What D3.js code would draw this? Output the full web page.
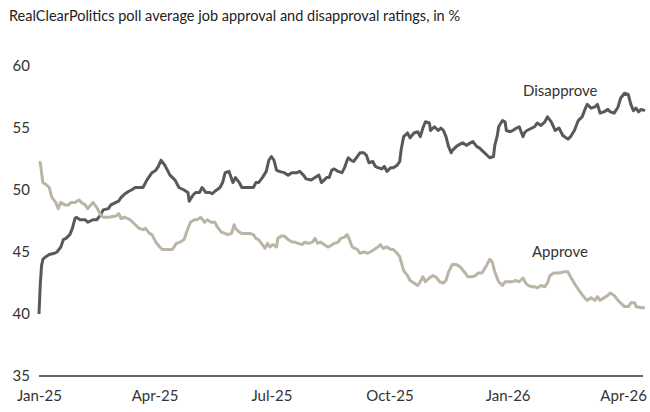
<!DOCTYPE html>
<html>
<head>
<meta charset="utf-8">
<script src="https://cdn.jsdelivr.net/npm/d3@7"></script>
<style>
  html, body { margin: 0; padding: 0; background: #fff; }
  svg { display: block; font-family: Lato, "Open Sans", sans-serif; }
</style>
</head>
<body>
<svg id="chart" width="650" height="412"></svg>
<script>
// RealClearPolitics poll average: job approval / disapproval, in %
const title = "RealClearPolitics poll average job approval and disapproval ratings, in %";

const disapproveDates = [
  "2025-01-20","2025-01-21","2025-01-22","2025-01-23","2025-01-25","2025-01-28","2025-02-01","2025-02-03",
  "2025-02-06","2025-02-08","2025-02-10","2025-02-13","2025-02-15","2025-02-17","2025-02-18","2025-02-21",
  "2025-02-25","2025-02-27","2025-03-03","2025-03-06","2025-03-09","2025-03-11","2025-03-15","2025-03-17",
  "2025-03-21","2025-03-23","2025-03-25","2025-03-28","2025-03-31","2025-04-02","2025-04-05","2025-04-08",
  "2025-04-11","2025-04-14","2025-04-18","2025-04-21","2025-04-23","2025-04-25","2025-04-28","2025-04-30",
  "2025-05-02","2025-05-06","2025-05-09","2025-05-13","2025-05-16","2025-05-17","2025-05-20","2025-05-22",
  "2025-05-25","2025-05-27","2025-05-30","2025-06-02","2025-06-04","2025-06-06","2025-06-10","2025-06-12",
  "2025-06-14","2025-06-17","2025-06-20","2025-06-22","2025-06-25","2025-06-27","2025-06-29","2025-07-03",
  "2025-07-06","2025-07-08","2025-07-10","2025-07-13","2025-07-16","2025-07-18","2025-07-20","2025-07-22",
  "2025-07-24","2025-07-26","2025-07-30","2025-08-02","2025-08-05","2025-08-09","2025-08-11","2025-08-14",
  "2025-08-16","2025-08-20","2025-08-23","2025-08-26","2025-08-28","2025-09-01","2025-09-03","2025-09-05",
  "2025-09-07","2025-09-10","2025-09-13","2025-09-15","2025-09-17","2025-09-18","2025-09-20","2025-09-22",
  "2025-09-25","2025-09-27","2025-09-30","2025-10-02","2025-10-04","2025-10-07","2025-10-09","2025-10-11",
  "2025-10-14","2025-10-16","2025-10-18","2025-10-21","2025-10-23","2025-10-26","2025-10-28","2025-10-29",
  "2025-10-31","2025-11-03","2025-11-05","2025-11-08","2025-11-11","2025-11-13","2025-11-15","2025-11-17",
  "2025-11-20","2025-11-21","2025-11-24","2025-11-27","2025-11-29","2025-12-01","2025-12-03","2025-12-05",
  "2025-12-07","2025-12-08","2025-12-11","2025-12-14","2025-12-16","2025-12-19","2025-12-22","2025-12-24",
  "2025-12-27","2025-12-29","2026-01-01","2026-01-04","2026-01-06","2026-01-09","2026-01-10","2026-01-12",
  "2026-01-13","2026-01-16","2026-01-18","2026-01-19","2026-01-22","2026-01-24","2026-01-27","2026-01-29",
  "2026-02-01","2026-02-02","2026-02-04","2026-02-08","2026-02-10","2026-02-12","2026-02-15","2026-02-18",
  "2026-02-20","2026-02-23","2026-02-26","2026-03-01","2026-03-04","2026-03-08","2026-03-10","2026-03-13",
  "2026-03-16","2026-03-19","2026-03-22","2026-03-23","2026-03-26","2026-03-29","2026-03-31","2026-04-02",
  "2026-04-05","2026-04-08","2026-04-10","2026-04-13","2026-04-16","2026-04-18","2026-04-21","2026-04-24",
  "2026-04-26","2026-04-28","2026-04-30","2026-05-02","2026-05-04","2026-05-07"
];
const disapproveValues = [
  40.0,42.4,43.9,44.4,44.6,44.8,44.9,45.0,
  45.4,46.0,46.1,46.4,46.9,47.7,47.8,47.6,
  47.6,47.4,47.6,47.6,48.0,48.4,48.5,48.8,
  49.0,49.1,49.4,49.7,49.9,50.0,50.2,50.2,
  50.2,50.8,51.4,51.6,51.9,52.4,52.0,51.6,
  51.2,50.8,50.2,50.0,49.8,49.1,49.6,49.8,
  49.8,50.2,49.8,49.8,49.7,49.9,50.2,50.6,
  51.4,51.5,50.6,51.0,50.6,50.2,50.2,50.2,
  50.2,50.6,50.6,51.0,51.5,52.4,52.7,52.4,
  51.6,51.5,51.4,51.2,51.4,51.4,51.5,51.2,
  50.9,50.8,51.0,51.2,50.6,51.0,51.0,51.6,
  51.7,51.5,51.4,51.8,52.4,52.6,52.4,52.3,
  52.7,53.0,53.0,52.8,52.2,52.3,51.9,51.8,
  51.7,51.9,51.5,51.8,51.8,52.0,52.3,53.2,
  54.3,54.6,54.2,54.6,54.7,54.3,55.0,55.5,
  55.4,54.8,55.1,54.8,55.0,54.8,54.3,53.5,
  53.0,53.2,53.5,53.7,53.8,53.6,53.8,53.9,
  53.5,53.4,53.1,52.8,52.6,52.7,53.6,54.4,
  55.1,55.6,55.5,54.8,54.7,54.8,55.0,55.1,
  54.3,54.6,54.8,55.0,55.1,55.4,55.2,55.5,
  55.9,55.5,54.8,55.0,54.4,54.1,54.3,54.8,
  55.6,55.9,56.7,56.9,56.6,56.7,56.9,56.2,
  56.3,56.5,56.3,56.2,56.7,57.4,57.8,57.7,
  56.9,56.4,56.6,56.3,56.5,56.4
];

const approveDates = [
  "2025-01-20","2025-01-21","2025-01-23","2025-01-26","2025-01-28","2025-01-30","2025-02-02","2025-02-04",
  "2025-02-06","2025-02-09","2025-02-12","2025-02-14","2025-02-17","2025-02-20","2025-02-22","2025-02-25",
  "2025-02-27","2025-03-03","2025-03-06","2025-03-09","2025-03-11","2025-03-15","2025-03-21","2025-03-23",
  "2025-03-25","2025-03-28","2025-04-01","2025-04-05","2025-04-08","2025-04-11","2025-04-13","2025-04-16",
  "2025-04-18","2025-04-21","2025-04-24","2025-04-26","2025-04-28","2025-05-01","2025-05-04","2025-05-07",
  "2025-05-10","2025-05-13","2025-05-16","2025-05-18","2025-05-21","2025-05-23","2025-05-26","2025-05-29",
  "2025-05-31","2025-06-03","2025-06-06","2025-06-08","2025-06-11","2025-06-14","2025-06-16","2025-06-19",
  "2025-06-21","2025-06-22","2025-06-25","2025-06-27","2025-06-29","2025-07-03","2025-07-06","2025-07-08",
  "2025-07-10","2025-07-13","2025-07-15","2025-07-17","2025-07-19","2025-07-21","2025-07-24","2025-07-25",
  "2025-07-28","2025-07-30","2025-08-02","2025-08-05","2025-08-07","2025-08-10","2025-08-13","2025-08-15",
  "2025-08-18","2025-08-21","2025-08-23","2025-08-25","2025-08-27","2025-08-30","2025-09-02","2025-09-04",
  "2025-09-07","2025-09-10","2025-09-12","2025-09-15","2025-09-17","2025-09-18","2025-09-21","2025-09-25",
  "2025-09-27","2025-09-30","2025-10-03","2025-10-05","2025-10-08","2025-10-11","2025-10-13","2025-10-15",
  "2025-10-18","2025-10-21","2025-10-23","2025-10-26","2025-10-28","2025-10-31","2025-11-03","2025-11-05",
  "2025-11-08","2025-11-11","2025-11-13","2025-11-15","2025-11-17","2025-11-20","2025-11-23","2025-11-26",
  "2025-11-28","2025-12-01","2025-12-03","2025-12-05","2025-12-08","2025-12-11","2025-12-14","2025-12-18",
  "2025-12-20","2025-12-23","2025-12-26","2025-12-28","2025-12-31","2026-01-03","2026-01-06","2026-01-08",
  "2026-01-10","2026-01-13","2026-01-16","2026-01-18","2026-01-21","2026-01-24","2026-01-26","2026-01-29",
  "2026-02-01","2026-02-03","2026-02-05","2026-02-08","2026-02-10","2026-02-12","2026-02-15","2026-02-18",
  "2026-02-20","2026-02-22","2026-02-25","2026-03-01","2026-03-05","2026-03-08","2026-03-10","2026-03-14",
  "2026-03-18","2026-03-21","2026-03-23","2026-03-26","2026-03-29","2026-03-31","2026-04-02","2026-04-05",
  "2026-04-08","2026-04-10","2026-04-13","2026-04-16","2026-04-18","2026-04-21","2026-04-24","2026-04-26",
  "2026-04-29","2026-04-30","2026-05-04","2026-05-07"
];
const approveValues = [
  52.3,52.2,50.6,50.4,50.2,49.4,49.0,48.5,
  49.0,48.8,48.8,49.0,49.0,49.2,49.0,48.8,
  48.5,49.0,48.6,48.0,47.8,47.8,47.9,48.1,
  47.7,47.8,47.6,47.2,46.9,46.8,46.9,46.5,
  46.4,45.8,45.4,45.2,45.2,45.2,45.2,45.7,
  45.8,46.0,46.9,47.4,47.6,47.6,47.8,47.4,
  47.6,47.4,47.4,47.0,46.6,46.5,46.4,46.5,
  47.2,46.9,46.6,46.5,46.5,46.5,46.4,46.1,
  46.0,45.6,45.3,45.7,45.4,45.6,45.4,46.1,
  46.3,46.3,46.0,45.8,45.8,45.7,45.6,45.8,
  45.7,45.8,46.1,45.7,45.8,45.6,45.4,45.5,
  45.7,45.8,46.1,46.2,46.4,46.2,45.4,45.2,
  44.9,45.0,44.9,45.0,45.2,45.4,45.6,45.3,
  45.4,45.2,45.2,44.9,44.6,43.5,43.1,42.7,
  42.5,42.3,42.6,43.0,42.6,42.9,43.1,42.9,
  42.6,42.5,42.7,43.4,44.0,44.0,43.8,43.3,
  43.0,43.0,43.1,43.3,43.3,43.8,44.4,44.2,
  43.4,42.6,42.3,42.6,42.6,42.6,42.7,42.6,
  42.9,42.5,42.3,42.2,42.2,42.1,42.3,42.2,
  42.5,43.1,43.3,43.3,43.4,43.4,43.0,42.3,
  41.7,41.3,41.1,41.3,41.1,41.4,41.1,41.3,
  41.5,41.7,41.5,41.1,40.9,40.6,40.6,40.9,
  40.9,40.6,40.5,40.5
];

const yTicks = [35, 40, 45, 50, 55, 60];
const xTickDates = ["2025-01-20","2025-04-20","2025-07-20","2025-10-20","2026-01-20","2026-04-20"];
const xTickLabels = ["Jan-25","Apr-25","Jul-25","Oct-25","Jan-26","Apr-26"];

const seriesNames = ["Disapprove", "Approve"];
const seriesColors = ["#595959", "#bbb5a6"];

const parse = d3.timeParse("%Y-%m-%d");
const series = [
  { name: seriesNames[0], color: seriesColors[0],
    points: disapproveDates.map((d, i) => ({ date: parse(d), value: disapproveValues[i] })) },
  { name: seriesNames[1], color: seriesColors[1],
    points: approveDates.map((d, i) => ({ date: parse(d), value: approveValues[i] })) }
];

const svg = d3.select("#chart");
const plot = { left: 39, right: 645, top: 66, bottom: 376 };
const font = "Lato, \"Open Sans\", sans-serif";

const x = d3.scaleTime()
  .domain([parse("2025-01-20"), parse("2026-05-07")])
  .range([plot.left, plot.right]);
const y = d3.scaleLinear()
  .domain([35, 60])
  .range([plot.bottom, plot.top]);

// Title
svg.append("text")
  .attr("x", 9).attr("y", 21)
  .attr("font-size", 14.5)
  .attr("fill", "#222")
  .text(title);

// Y axis labels (no axis line)
const yAxis = svg.append("g")
  .attr("transform", `translate(${plot.left - 9},0)`)
  .call(d3.axisLeft(y).tickValues(yTicks).tickSize(0).tickPadding(0));
yAxis.select(".domain").remove();
yAxis.selectAll("text")
  .attr("font-family", font)
  .attr("font-size", 15)
  .attr("fill", "#333");

// X axis: baseline and date labels
const xAxis = svg.append("g")
  .attr("transform", `translate(0,${plot.bottom})`)
  .call(d3.axisBottom(x)
    .tickValues(xTickDates.map(parse))
    .tickFormat((d, i) => xTickLabels[i])
    .tickSize(0).tickPadding(14));
xAxis.select(".domain")
  .attr("stroke", "#333")
  .attr("stroke-width", 1.3)
  .attr("d", `M${plot.left},0H${plot.right - 2}`);
xAxis.selectAll("text")
  .attr("font-family", font)
  .attr("font-size", 15)
  .attr("fill", "#333");

// Lines
const line = d3.line()
  .x(d => x(d.date))
  .y(d => y(d.value));

svg.append("g")
  .selectAll("path")
  .data(series)
  .join("path")
  .attr("d", d => line(d.points))
  .attr("fill", "none")
  .attr("stroke", d => d.color)
  .attr("stroke-width", 3)
  .attr("stroke-linejoin", "round");

// Series labels
svg.append("text")
  .attr("x", 523).attr("y", 96)
  .attr("font-size", 15)
  .attr("fill", "#333")
  .text(seriesNames[0]);
svg.append("text")
  .attr("x", 532).attr("y", 257)
  .attr("font-size", 15)
  .attr("fill", "#333")
  .text(seriesNames[1]);
</script>
</body>
</html>
